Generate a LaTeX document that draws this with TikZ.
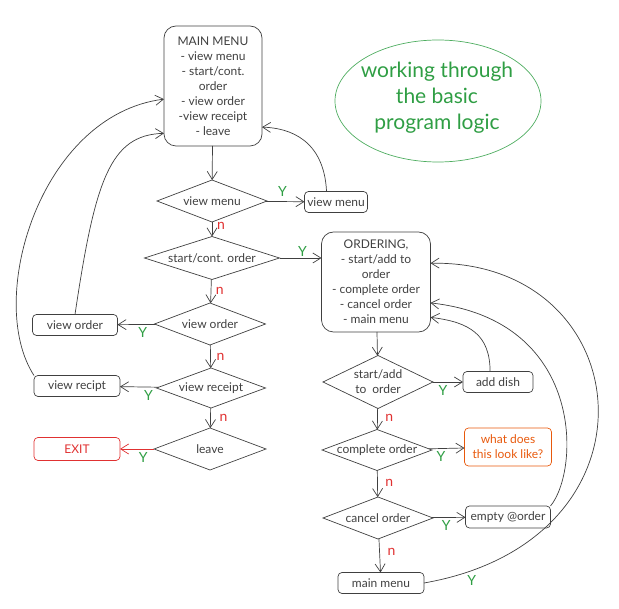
\documentclass[tikz,border=0pt]{standalone}
\usepackage{fontspec}
\setmainfont{Lato}
\usetikzlibrary{shapes.geometric,arrows.meta}
\definecolor{yesgreen}{HTML}{2F9E44}
\definecolor{nored}{HTML}{E03131}
\definecolor{askorange}{HTML}{E8590C}
\begin{document}
\begin{tikzpicture}[x=1pt,y=-1pt,inner sep=0pt,outer sep=0pt,line width=0.7pt,color=black!75,
font=\fontsize{12}{15}\selectfont,>={Straight Barb[length=8pt,width=10pt]},
decision/.style={draw,diamond,aspect=2.6,align=center,inner xsep=-4pt,inner ysep=0pt},
stepbox/.style={draw,rectangle,rounded corners=4pt,minimum height=21pt,align=center},
menubox/.style={draw,rectangle,rounded corners=12pt,align=center},
yes/.style={text=yesgreen,font=\fontsize{14}{14}\selectfont},
no/.style={text=nored,font=\fontsize{14}{14}\selectfont}]
\useasboundingbox (0,0) rectangle (619,609);

\draw (213,86) node[menubox,minimum width=98pt,minimum height=120pt] (mainmenu) {MAIN MENU\\- view menu\\- start/cont.\\order\\- view order\\-view receipt\\- leave};
\draw (212,201) node[decision,minimum width=110pt,minimum height=42pt] (vm) {view menu};
\draw (212,258) node[decision,aspect=3.1,minimum width=135pt,minimum height=43pt] (sco) {start/cont. order};
\draw (210,324) node[decision,minimum width=111pt,minimum height=42pt] (vo) {view order};
\draw (211,388) node[decision,minimum width=109pt,minimum height=40pt] (vr) {view receipt};
\draw (210,449) node[decision,minimum width=112pt,minimum height=42pt] (lv) {leave};

\draw (336,202) node[stepbox,minimum width=63pt] (vmbox) {view menu};
\draw (75,325) node[stepbox,minimum width=85pt] (vobox) {view order};
\draw (77,386) node[stepbox,minimum width=86pt] (vrbox) {view recipt};
\draw (77,449) node[stepbox,minimum width=86pt,minimum height=23pt,draw=nored,text=nored] (exitbox) {EXIT};

\draw (376,282) node[menubox,minimum width=109pt,minimum height=100pt] (ordering) {ORDERING,\\- start/add to\\order\\- complete order\\- cancel order\\- main menu};
\draw (378,382) node[decision,aspect=2.1,minimum width=110pt,minimum height=53pt] (sao) {start/add\\to\enspace order};
\draw (377,450) node[decision,aspect=2.7,minimum width=110pt,minimum height=41pt] (co) {complete order};
\draw (378,518) node[decision,minimum width=110pt,minimum height=42pt] (cao) {cancel order};
\draw (498,382) node[stepbox,minimum width=70pt] (adbox) {add dish};
\draw (508,447) node[stepbox,minimum width=87pt,minimum height=38pt,draw=askorange,text=askorange,font=\fontsize{12}{15}\selectfont] (wdbox) {what does\\this look like?};
\draw (508,517) node[stepbox,minimum width=85pt,minimum height=22pt] (eobox) {empty @order};
\draw (381,583) node[stepbox,minimum width=86pt] (mmbox) {main menu};

\draw (437,98) node[text=yesgreen,align=center,font=\fontsize{21}{26}\selectfont] (note) {working through\\the basic\\program logic};
\draw[yesgreen!85] (438,101) ellipse [x radius=103,y radius=61];

\draw[->] (mainmenu) -- (vm);
\draw[->] (vm) -- (vmbox) node[pos=.43,above=5pt,yes] {Y};
\draw[->] (vm) -- (sco) node[pos=.3,right=5pt,no] {n};
\draw[->] (sco.east) -- (sco.east -| ordering.west) node[pos=.55,above=1pt,yes] {Y};
\draw[->] (sco) -- (vo) node[pos=.5,right=5pt,no] {n};
\draw[->] (vo) -- (vobox) node[pos=.34,below=3pt,yes] {Y};
\draw[->] (vo) -- (vr) node[pos=.5,right=6pt,no] {n};
\draw[->] (vr) -- (vrbox) node[pos=.26,below=3pt,yes] {Y};
\draw[->] (vr) -- (lv) node[pos=.5,right=9pt,no] {n};
\draw[->,nored] (lv) -- (exitbox) node[pos=.32,below=3pt,yes] {Y};

\draw[->] (vmbox.132) .. controls (324,140) and (290,128) .. (mainmenu.-40);
\draw[->] (vobox.north) .. controls (95,180) and (110,135) .. (mainmenu.224);
\draw[->] (vrbox.north west) .. controls (-15,300) and (40,115) .. (mainmenu.195);

\draw[->] (ordering) -- (sao);
\draw[->] (sao) -- (adbox) node[pos=.33,below=3pt,yes] {Y};
\draw[->] (sao) -- (co) node[pos=.45,right=8pt,no] {n};
\draw[->] (co) -- (wdbox) node[pos=.34,below=3pt,yes] {Y};
\draw[->] (co) -- (cao) node[pos=.45,right=8pt,no] {n};
\draw[->] (cao) -- (eobox) node[pos=.43,below=3pt,yes] {Y};
\draw[->] (cao) -- (mmbox) node[pos=.4,right=8pt,no] {n};

\draw[->] (adbox.127) .. controls (490,335) and (470,322) .. (ordering.-33);
\draw[->] (eobox.north east) .. controls (580,470) and (585,320) .. (ordering.-21);
\draw[->] (mmbox.east) .. controls (670,540) and (640,260) .. (ordering.19) node[pos=.07,below=5pt,yes] {Y};
\end{tikzpicture}
\end{document}
